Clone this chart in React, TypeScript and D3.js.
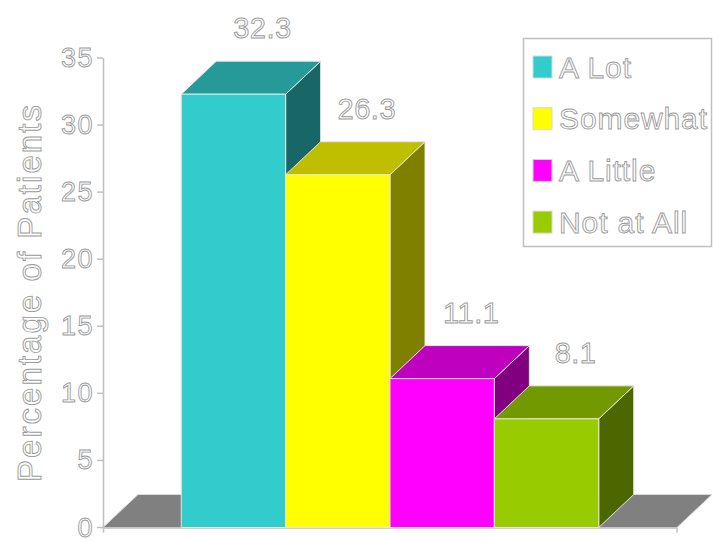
import React from "react";
import * as d3 from "d3";

const categories = ["A Lot", "Somewhat", "A Little", "Not at All"];
const values = [32.3, 26.3, 11.1, 8.1];
const valueLabels = ["32.3", "26.3", "11.1", "8.1"];
const frontColors = ["#33CCCC", "#FFFF00", "#FF00FF", "#99CC00"];
const topColors = ["#269999", "#BFBF00", "#BF00BF", "#739900"];
const sideColors = ["#196666", "#808000", "#800080", "#4C6600"];
const yTicks = [0, 5, 10, 15, 20, 25, 30, 35];
const yTitle = "Percentage of Patients";

const W = 713;
const H = 541;
const DX = 35;
const DY = -33;

const textStyle = {
  fill: "#ffffff",
  stroke: "#999999",
  strokeWidth: 0.9,
  fontFamily: "'Liberation Sans', Arial, sans-serif",
};

export default function App() {
  const y = d3.scaleLinear().domain([0, 35]).range([527.5, 58]);
  const x = d3
    .scaleBand<string>()
    .domain(categories)
    .range([103, 677])
    .paddingInner(0)
    .paddingOuter(0.75);
  const bw = x.bandwidth();
  const y0 = y(0);
  const pts = (arr: [number, number][]) => arr.map((p) => p.join(",")).join(" ");

  const floor = pts([
    [103, y0],
    [677, y0],
    [677 + DX, y0 + DY],
    [103 + DX, y0 + DY],
  ]);

  return (
    <svg
      width={W}
      height={H}
      style={{ position: "absolute", left: 0, top: 0, background: "#fff" }}
    >
      {/* floor */}
      <polygon points={floor} fill="#808080" stroke="#d8d8d8" strokeWidth={1} />
      {/* axes */}
      <line x1={103.5} x2={103.5} y1={y(35)} y2={y0 + 5} stroke="#c0c0c0" strokeWidth={1.5} />
      <line x1={103} x2={677} y1={y0 + 0.5} y2={y0 + 0.5} stroke="#c0c0c0" strokeWidth={1.5} />
      <line x1={677} x2={677} y1={y0} y2={y0 + 5} stroke="#c0c0c0" strokeWidth={1.5} />
      {yTicks.map((t) => (
        <g key={t}>
          <line x1={97} x2={103} y1={y(t)} y2={y(t)} stroke="#c0c0c0" strokeWidth={1.5} />
          <text
            x={94}
            y={y(t)}
            textAnchor="end"
            dominantBaseline="central"
            fontSize={27}
            letterSpacing={1.5}
            style={textStyle}
          >
            {t}
          </text>
        </g>
      ))}
      <text
        transform={`translate(29,${(105 + 482) / 2}) rotate(-90)`}
        textAnchor="middle"
        dominantBaseline="central"
        fontSize={33}
        textLength={377}
        lengthAdjust="spacing"
        style={textStyle}
      >
        {yTitle}
      </text>
      {/* bars */}
      {categories.map((c, i) => {
        const x0 = x(c)!;
        const x1 = x0 + bw;
        const yt = y(values[i]);
        const front = pts([
          [x0, yt],
          [x1, yt],
          [x1, y0],
          [x0, y0],
        ]);
        const top = pts([
          [x0, yt],
          [x1, yt],
          [x1 + DX, yt + DY],
          [x0 + DX, yt + DY],
        ]);
        const side = pts([
          [x1, yt],
          [x1 + DX, yt + DY],
          [x1 + DX, y0 + DY],
          [x1, y0],
        ]);
        return (
          <g key={c}>
            <polygon points={side} fill={sideColors[i]} stroke="#e4e4e4" strokeWidth={1} />
            <polygon points={top} fill={topColors[i]} stroke="#e4e4e4" strokeWidth={1} />
            <polygon points={front} fill={frontColors[i]} stroke="#e4e4e4" strokeWidth={1} />
          </g>
        );
      })}
      {/* value labels */}
      {categories.map((c, i) => (
        <text
          key={c}
          x={x(c)! + bw / 2 + 29}
          y={y(values[i]) - 56}
          textAnchor="middle"
          fontSize={29}
          letterSpacing={0.5}
          style={textStyle}
        >
          {valueLabels[i]}
        </text>
      ))}
      {/* legend */}
      <rect x={523.5} y={38.5} width={188} height={208} fill="#fff" stroke="#c0c0c0" strokeWidth={1.5} />
      {categories.map((c, i) => {
        const cy = 67 + i * 51.7;
        return (
          <g key={c}>
            <rect x={533} y={cy - 11} width={19} height={22} fill={frontColors[i]} stroke="#d8d8d8" strokeWidth={1} />
            <text
              x={559}
              y={cy}
              dominantBaseline="central"
              fontSize={30}
              letterSpacing={0.9}
              style={textStyle}
            >
              {c}
            </text>
          </g>
        );
      })}
    </svg>
  );
}
